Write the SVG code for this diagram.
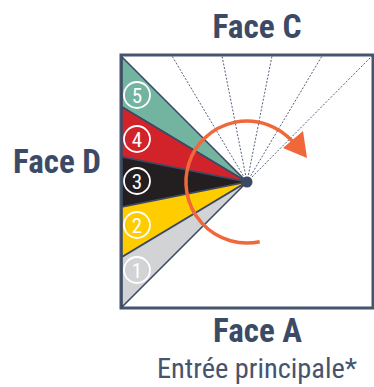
<svg xmlns="http://www.w3.org/2000/svg" width="374" height="387" viewBox="0 0 374 387">
<style>
.face{font-family:"Liberation Sans Narrow","Roboto Condensed","DejaVu Sans Condensed","Liberation Sans",sans-serif;font-weight:bold;font-size:33px;fill:#3c4a66;text-anchor:middle}
.sub{font-family:"Liberation Sans Narrow","Roboto Condensed","DejaVu Sans Condensed","Liberation Sans",sans-serif;font-size:27px;fill:#46546e;text-anchor:middle}
.wedge{stroke:#3c4a66;stroke-width:1.6;stroke-linejoin:round}
.num{fill:none;stroke:#fff;stroke-width:1.8}
.numt{font-family:"Liberation Sans Narrow","Roboto Condensed","DejaVu Sans Condensed","Liberation Sans",sans-serif;font-size:21px;fill:#fff;text-anchor:middle}
.dash{stroke:#56607a;stroke-width:1;stroke-dasharray:2 1.6;fill:none}
</style>
<rect id="square" x="121" y="55" width="252" height="253" fill="#fff" stroke="#46546e" stroke-width="3"/>
<g id="connectors">
<line class="dash" x1="247" y1="182" x2="172" y2="56"/>
<line class="dash" x1="247" y1="182" x2="222" y2="56"/>
<line class="dash" x1="247" y1="182" x2="272" y2="56"/>
<line class="dash" x1="247" y1="182" x2="322" y2="56"/>
<line class="dash" x1="247" y1="182" x2="372" y2="56"/>
</g>
<g id="wedge5"><polygon class="wedge" fill="#72b4a0" points="247,182 122,57 122,107"/><circle class="num" cx="137" cy="95" r="13"/><text class="numt" x="137" y="102.5">5</text></g>
<g id="wedge4"><polygon class="wedge" fill="#d2232a" points="247,182 122,107 122,157"/><circle class="num" cx="137" cy="139" r="13"/><text class="numt" x="137" y="146.5">4</text></g>
<g id="wedge3"><polygon class="wedge" fill="#231f20" points="247,182 122,157 122,207"/><circle class="num" cx="137" cy="181" r="13"/><text class="numt" x="137" y="188.5">3</text></g>
<g id="wedge2"><polygon class="wedge" fill="#ffcc00" points="247,182 122,207 122,257"/><circle class="num" cx="137" cy="225" r="13"/><text class="numt" x="137" y="232.5">2</text></g>
<g id="wedge1"><polygon class="wedge" fill="#d1d3d4" points="247,182 122,257 122,307"/><circle class="num" cx="137" cy="270" r="13"/><text class="numt" x="137" y="277.5">1</text></g>
<g id="rotation">
<path d="M259.7 241.7 A61 61 0 1 1 292.3 141.2" fill="none" stroke="#f0673a" stroke-width="3.5"/>
<polygon points="283,148 303,131 307,158" fill="#f0673a"/>
</g>
<circle id="center" cx="247" cy="182" r="5.5" fill="#3c4a66"/>
<g id="labels">
<text class="face" x="257" y="38" textLength="89" lengthAdjust="spacingAndGlyphs">Face C</text>
<text class="face" x="57" y="173" textLength="88" lengthAdjust="spacingAndGlyphs">Face D</text>
<text class="face" x="257.5" y="342" textLength="89" lengthAdjust="spacingAndGlyphs">Face A</text>
<text class="sub" x="257" y="378" textLength="200" lengthAdjust="spacingAndGlyphs">Entrée principale*</text>
</g>
</svg>
